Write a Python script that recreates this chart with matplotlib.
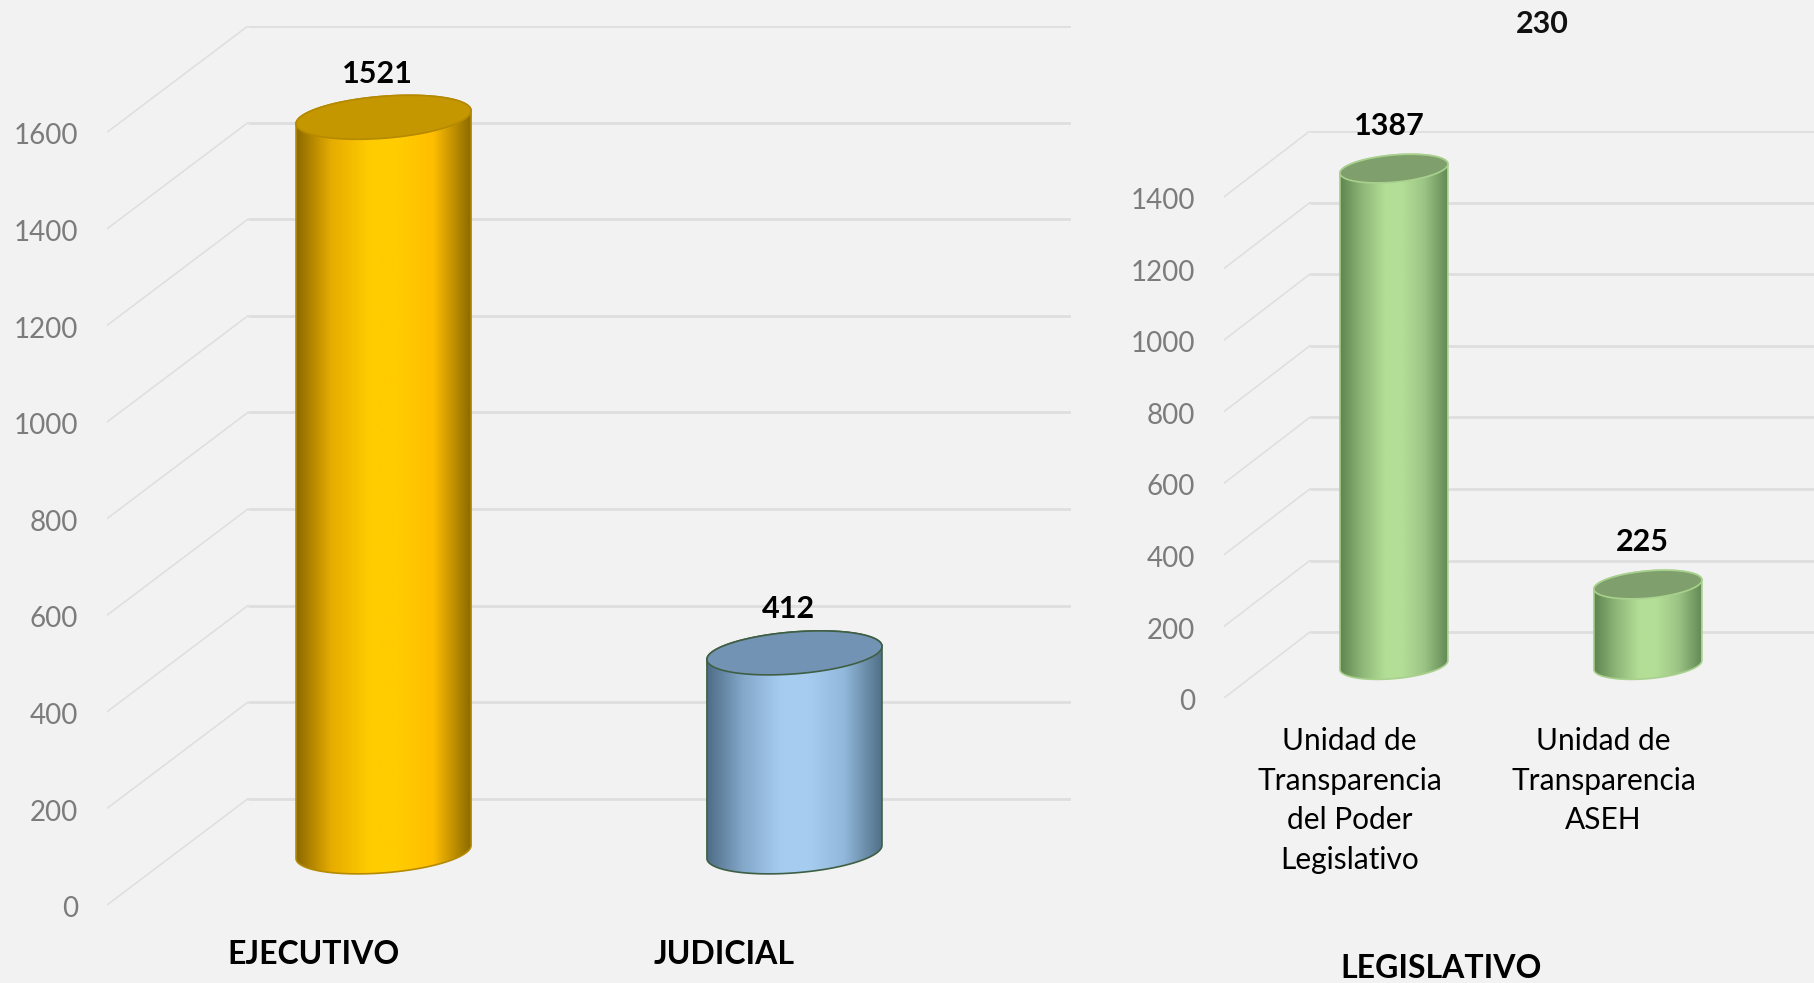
"""Cylinder column charts: transparency units by branch."""
import matplotlib
matplotlib.use("Agg")
import matplotlib.pyplot as plt
import numpy as np
from matplotlib.colors import LinearSegmentedColormap
from matplotlib.patches import Polygon
from matplotlib.transforms import ScaledTranslation

WIDTH, HEIGHT = 1814, 983

LEFT_CATS = ["EJECUTIVO", "JUDICIAL"]
LEFT_VALUES = [1521, 412]
LEFT_TICKS = [0, 200, 400, 600, 800, 1000, 1200, 1400, 1600]

RIGHT_CATS = ["Unidad de\nTransparencia\ndel Poder\nLegislativo", "Unidad de\nTransparencia\nASEH"]
RIGHT_VALUES = [1387, 225]
RIGHT_TICKS = [0, 200, 400, 600, 800, 1000, 1200, 1400]

BG = "#F2F2F2"
GRID = "#DEDEDE"
TICK = "#7C7C7C"
FONT = "Lato"

YELLOW = {"side": ["#8C6900", "#E6AC00", "#FFCC00", "#FFCC00", "#FFBE00", "#886800"],
          "top": "#C49600", "edge": "#B58A00"}
BLUE = {"side": ["#4D6C86", "#83A7C9", "#A6CDF0", "#A6CDF0", "#92B8DB", "#4F6E85"],
        "top": "#7393B5", "edge": "#3F5F45"}
GREEN = {"side": ["#5E854F", "#8DB577", "#B3DE96", "#B3DE96", "#9CC585", "#638955"],
         "top": "#7F9F6C", "edge": "#A9D18E"}
STOPS = [0.0, 0.2, 0.42, 0.58, 0.78, 1.0]


def px_axes(fig, left, right, top, bottom):
    ax = fig.add_axes([left / WIDTH, 1 - bottom / HEIGHT, (right - left) / WIDTH, (bottom - top) / HEIGHT])
    ax.patch.set_visible(False)
    for spine in ax.spines.values():
        spine.set_visible(False)
    return ax


def cylinder(ax, x, value, half, skew, minor, style):
    cmap = LinearSegmentedColormap.from_list("cyl", list(zip(STOPS, style["side"])))
    low = np.linspace(np.pi, 2 * np.pi, 80)
    up = np.linspace(0, np.pi, 80)
    lx = x + half * np.cos(low)
    ly = skew * np.cos(low) + minor * np.sin(low)
    ux = x + half * np.cos(up)
    uy = value + skew * np.cos(up) + minor * np.sin(up)
    shape = Polygon(np.column_stack([np.r_[lx, ux], np.r_[ly, uy]]), closed=True,
                    facecolor="none", edgecolor=style["edge"], linewidth=1.2, zorder=3)
    ax.add_patch(shape)
    im = ax.imshow(np.linspace(0, 1, 256)[None, :], cmap=cmap, aspect="auto", interpolation="bilinear",
                   extent=[x - half, x + half, -minor - skew, value + minor + skew], zorder=2)
    im.set_clip_path(shape)
    t = np.linspace(0, 2 * np.pi, 160)
    ax.add_patch(Polygon(np.column_stack([x + half * np.cos(t), value + skew * np.cos(t) + minor * np.sin(t)]),
                         closed=True, facecolor=style["top"], edgecolor=style["edge"], linewidth=1.2, zorder=4))


def panel(ax, cats, values, ticks, styles, depth, xlim, shift, back, half, skew, minor, label_dx, label_dy,
          cat_size, cat_weight, cat_pad, linespacing):
    ticks = np.array(ticks)
    xs = np.arange(len(cats))
    front = xlim[0]
    for v in ticks:
        ax.plot([back, xlim[1]], [v + depth, v + depth], color=GRID, lw=2.0, zorder=1, solid_capstyle="butt")
        ax.plot([front, back], [v - depth, v + depth], color=GRID, lw=1.1, zorder=1)
    for x, v, st in zip(xs, values, styles):
        cylinder(ax, x, v, half, skew, minor, st)
        ax.text(x + label_dx, v + label_dy, str(v), ha="center", va="center", fontsize=22,
                fontweight="bold", color="black", family=FONT, zorder=5)
    ax.set_xlim(*xlim)
    ax.set_ylim(ticks[0] - depth, ticks[-1] + depth)
    ax.set_yticks(ticks - depth, [str(v) for v in ticks], fontsize=20, color=TICK, family=FONT)
    ax.set_xticks(xs - shift, cats, fontsize=cat_size, fontweight=cat_weight, color="black", family=FONT,
                  linespacing=linespacing)
    ax.tick_params(axis="y", length=0, pad=21)
    ax.tick_params(axis="x", length=0, pad=cat_pad)
    nudge = ScaledTranslation(0, -1.2 / 72, ax.figure.dpi_scale_trans)
    for label in ax.get_yticklabels():
        label.set_transform(label.get_transform() + nudge)


def main():
    fig = plt.figure(figsize=(WIDTH / 100, HEIGHT / 100), dpi=100, facecolor=BG)

    ax_l = px_axes(fig, 107, 1071, 26, 905)
    panel(ax_l, LEFT_CATS, LEFT_VALUES, LEFT_TICKS, [YELLOW, BLUE], 110, (-0.673, 1.673), 0.17, -0.33,
          0.213, 13.5, 43.5, -0.015, 90, 23, "bold", 25.5, 1.2)

    ax_r = px_axes(fig, 1224, 1814, 131, 698)
    panel(ax_r, RIGHT_CATS, RIGHT_VALUES, RIGHT_TICKS, [GREEN, GREEN], 92, (-0.669, 1.654), 0.175, -0.331,
          0.2125, 12.6, 38, -0.02, 120, 21.5, "normal", 21, 1.5)

    fig.text(1542 / WIDTH, 1 - 24 / HEIGHT, "230", ha="center", va="center", fontsize=22,
             fontweight="bold", color="#111111", family=FONT)
    fig.text(1441 / WIDTH, 1 - 968 / HEIGHT, "LEGISLATIVO", ha="center", va="center", fontsize=23,
             fontweight="bold", color="black", family=FONT)

    fig.savefig("out.png", dpi=100, facecolor=BG)


if __name__ == "__main__":
    main()
